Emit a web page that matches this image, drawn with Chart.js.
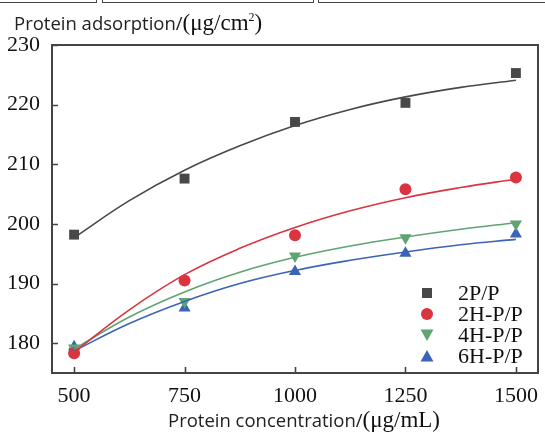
<!DOCTYPE html>
<html>
<head>
<meta charset="utf-8">
<script src="https://cdn.jsdelivr.net/npm/chart.js@4.4.1/dist/chart.umd.min.js"></script>
<style>
  html, body { margin: 0; padding: 0; background: #fff; }
  #wrap { position: relative; width: 545px; height: 432px; overflow: hidden; }
  canvas { display: block; }
  .edge { position: absolute; top: -4px; height: 6px; border: 1px solid #444; border-top: none; }
</style>
</head>
<body>
<div id="wrap">
  <div class="edge" style="left:-2px; width:97px;"></div>
  <div class="edge" style="left:102px; width:210px;"></div>
  <div class="edge" style="left:318px; width:230px;"></div>
  <canvas id="chart" width="545" height="432"></canvas>
</div>
<script>
// measured points
const concentrations = [500, 750, 1000, 1250, 1500];
const seriesNames = ['2P/P', '2H-P/P', '4H-P/P', '6H-P/P'];
const pts2P = [198.2, 207.6, 217.1, 220.3, 225.3];
const pts2H = [178.3, 190.5, 198.1, 205.8, 207.8];
const pts4H = [179.2, 187.0, 194.6, 197.7, 200.0];
const pts6H = [179.4, 185.9, 192.0, 195.1, 198.3];

// fitted curves
const fitX = [500, 625, 750, 875, 1000, 1125, 1250, 1375, 1500];
const fit2P = [197.7, 203.9, 209.0, 213.1, 216.5, 219.2, 221.3, 222.9, 224.1];
const fit2H = [178.5, 185.6, 191.5, 195.9, 199.4, 202.2, 204.4, 206.1, 207.5];
const fit4H = [179.0, 184.4, 188.6, 191.9, 194.4, 196.3, 197.8, 199.1, 200.2];
const fit6H = [178.7, 183.3, 187.0, 190.0, 192.2, 193.9, 195.3, 196.5, 197.4];

const xTicks = [500, 750, 1000, 1250, 1500];
const yTicks = [180, 190, 200, 210, 220, 230];

const colors = ['#484848', '#d9343f', '#5fa472', '#3b64b6'];
const shapes = ['rect', 'circle', 'triangle', 'triangle'];
const rotations = [0, 0, 180, 0];
const radii = [7, 6, 7, 7];

const toXY = (xs, ys) => xs.map((x, i) => ({ x: x, y: ys[i] }));

const pointSets = [pts2P, pts2H, pts4H, pts6H];
const fitSets = [fit2P, fit2H, fit4H, fit6H];

const datasets = [];
fitSets.forEach((ys, i) => {
    datasets.push({
        label: seriesNames[i] + ' fit',
        data: toXY(fitX, ys),
        borderColor: colors[i],
        borderWidth: 1.6,
        pointRadius: 0,
        tension: 0.4,
        fill: false
    });
});
pointSets.forEach((ys, i) => {
    datasets.push({
        label: seriesNames[i],
        data: toXY(concentrations, ys),
        showLine: false,
        pointStyle: shapes[i],
        rotation: rotations[i],
        pointRadius: radii[i],
        pointBackgroundColor: colors[i],
        pointBorderColor: colors[i],
        pointBorderWidth: 0
    });
});

const SERIF = '"Liberation Serif", "Times New Roman", serif';
const SANS = '"Open Sans", "Noto Sans", sans-serif';

// frame, inward ticks, legend and axis titles
const decorations = {
    id: 'decorations',
    afterDraw(chart) {
        const c = chart.ctx;
        const a = chart.chartArea;
        const xs = chart.scales.x;
        const ys = chart.scales.y;
        c.save();
        c.strokeStyle = '#444';
        c.lineWidth = 2;
        c.strokeRect(a.left, a.top, a.right - a.left, a.bottom - a.top);
        c.lineWidth = 1.6;
        c.beginPath();
        xTicks.forEach(v => {
            const px = Math.round(xs.getPixelForValue(v)) + 0.5;
            c.moveTo(px, a.bottom);
            c.lineTo(px, a.bottom - 6);
        });
        yTicks.forEach(v => {
            const py = Math.round(ys.getPixelForValue(v)) + 0.5;
            c.moveTo(a.left, py);
            c.lineTo(a.left + 6, py);
        });
        c.stroke();

        // legend
        const lx = 427, ly0 = 293, step = 21;
        seriesNames.forEach((name, i) => {
            const y = ly0 + i * step;
            c.fillStyle = colors[i];
            c.beginPath();
            if (shapes[i] === 'rect') {
                c.rect(lx - 5, y - 5, 10, 10);
            } else if (shapes[i] === 'circle') {
                c.arc(lx, y, 6, 0, Math.PI * 2);
            } else if (rotations[i] === 180) {
                c.moveTo(lx - 6.5, y - 5.5);
                c.lineTo(lx + 6.5, y - 5.5);
                c.lineTo(lx, y + 6);
            } else {
                c.moveTo(lx - 6.5, y + 5.5);
                c.lineTo(lx + 6.5, y + 5.5);
                c.lineTo(lx, y - 6);
            }
            c.fill();
            c.fillStyle = '#111';
            c.font = '22px ' + SERIF;
            c.textBaseline = 'middle';
            c.textAlign = 'left';
            c.fillText(name, 458, y + 1);
        });

        // titles: sans part followed by serif unit
        const drawMixed = (x, y, a1, a2) => {
            c.textBaseline = 'alphabetic';
            c.textAlign = 'left';
            c.fillStyle = '#222';
            c.font = '18.5px ' + SANS;
            c.fillText(a1, x, y);
            const w = c.measureText(a1).width;
            c.fillStyle = '#111';
            c.font = '23px ' + SERIF;
            c.fillText(a2, x + w, y);
            return x + w + c.measureText(a2).width;
        };
        const end = drawMixed(14, 30, 'Protein adsorption/', '(\u03bcg/cm');
        c.font = '12px ' + SERIF;
        c.fillText('2', end, 21);
        c.font = '23px ' + SERIF;
        c.fillText(')', end + 6, 30);

        drawMixed(168, 427, 'Protein concentration/', '(\u03bcg/mL)');
        c.restore();
    }
};

new Chart(document.getElementById('chart'), {
    type: 'line',
    data: { datasets: datasets },
    options: {
        responsive: false,
        animation: false,
        layout: { padding: { top: 45, right: 4, left: 0, bottom: 0 } },
        plugins: { legend: { display: false }, tooltip: { enabled: false } },
        scales: {
            x: {
                type: 'linear',
                min: 450,
                max: 1550,
                afterBuildTicks: s => { s.ticks = xTicks.map(v => ({ value: v })); },
                afterFit: s => { s.height = 59; },
                grid: { display: false },
                border: { display: false },
                ticks: {
                    color: '#111',
                    font: { family: SERIF, size: 22 },
                    padding: 2,
                    maxRotation: 0,
                    callback: v => String(v)
                }
            },
            y: {
                min: 175,
                max: 230,
                afterBuildTicks: s => { s.ticks = yTicks.map(v => ({ value: v })); },
                afterFit: s => { s.width = 52; },
                grid: { display: false },
                border: { display: false },
                ticks: {
                    color: '#111',
                    font: { family: SERIF, size: 22 },
                    padding: 4
                }
            }
        }
    },
    plugins: [decorations]
});
</script>
</body>
</html>
